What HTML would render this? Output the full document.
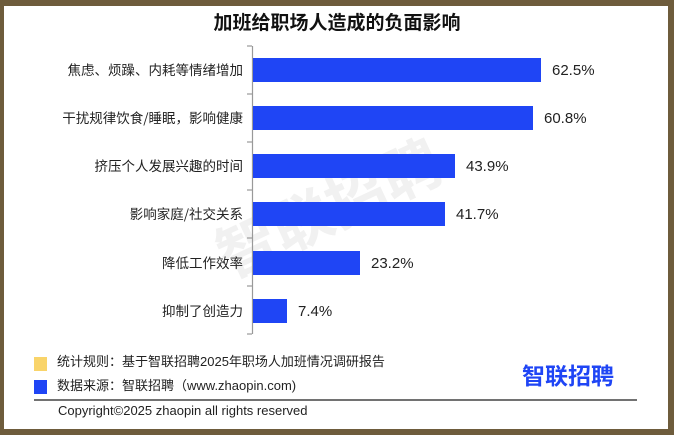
<!DOCTYPE html>
<html><head><meta charset="utf-8"><style>
body{margin:0;width:674px;height:435px;background:#6e5c3c;font-family:"Liberation Sans","Noto Sans CJK SC",sans-serif;}
.w{position:absolute;left:4px;top:6px;width:664px;height:423px;background:#fff;}
.t{position:absolute;font-size:14px;color:#222;white-space:nowrap;}
</style></head><body>
<div class="w"></div>
<div class="t" style="left:0;width:674px;top:8px;text-align:center;font-size:19px;font-weight:bold;color:#111">加班给职场人造成的负面影响</div>
<svg width="674" height="435" style="position:absolute;left:0;top:0">
<text x="330" y="230" transform="rotate(-25 330 210)" font-size="60" font-weight="bold" fill="#f1f1f1" text-anchor="middle" font-family="Noto Sans CJK SC">智联招聘</text>
<g stroke="#999" stroke-width="1.2">
<line x1="252.5" y1="46" x2="252.5" y2="334"/>
<line x1="247" y1="46" x2="252" y2="46"/><line x1="247" y1="94" x2="252" y2="94"/><line x1="247" y1="142" x2="252" y2="142"/><line x1="247" y1="190" x2="252" y2="190"/><line x1="247" y1="238" x2="252" y2="238"/><line x1="247" y1="286" x2="252" y2="286"/><line x1="247" y1="334" x2="252" y2="334"/>
</g>
<g fill="#1f45f5">
<rect x="253" y="58" width="288" height="24"/>
<rect x="253" y="106" width="280" height="24"/>
<rect x="253" y="154" width="202" height="24"/>
<rect x="253" y="202" width="192" height="24"/>
<rect x="253" y="251" width="107" height="24"/>
<rect x="253" y="299" width="34" height="24"/>
</g>
<g font-size="15" fill="#222" font-family="Liberation Sans">
<text x="552" y="75">62.5%</text><text x="544" y="123">60.8%</text><text x="466" y="171">43.9%</text><text x="456" y="219">41.7%</text><text x="371" y="268">23.2%</text><text x="298" y="316">7.4%</text>
</g>
<g font-size="13.5" fill="#222" text-anchor="end" font-family="Noto Sans CJK SC">
<text x="243" y="75">焦虑、烦躁、内耗等情绪增加</text><text x="243" y="123">干扰规律饮食/睡眠，影响健康</text><text x="243" y="171">挤压个人发展兴趣的时间</text><text x="243" y="219">影响家庭/社交关系</text><text x="243" y="268">降低工作效率</text><text x="243" y="316">抑制了创造力</text>
</g>
<rect x="34" y="357" width="13" height="14" fill="#f9d46a"/>
<rect x="34" y="380" width="13" height="14" fill="#1f45f5"/>
<line x1="34" y1="400" x2="637" y2="400" stroke="#444" stroke-width="1.5"/>
</svg>
<div class="t" style="left:57px;top:351px;font-size:13px">统计规则：基于智联招聘2025年职场人加班情况调研报告</div>
<div class="t" style="left:57px;top:375px;font-size:13px">数据来源：智联招聘（www.zhaopin.com)</div>
<div class="t" style="left:58px;top:403px;font-size:13px">Copyright©2025 zhaopin all rights reserved</div>
<div class="t" style="left:522px;top:357px;font-size:23px;font-weight:bold;color:#1f45f5">智联招聘</div>
</body></html>
